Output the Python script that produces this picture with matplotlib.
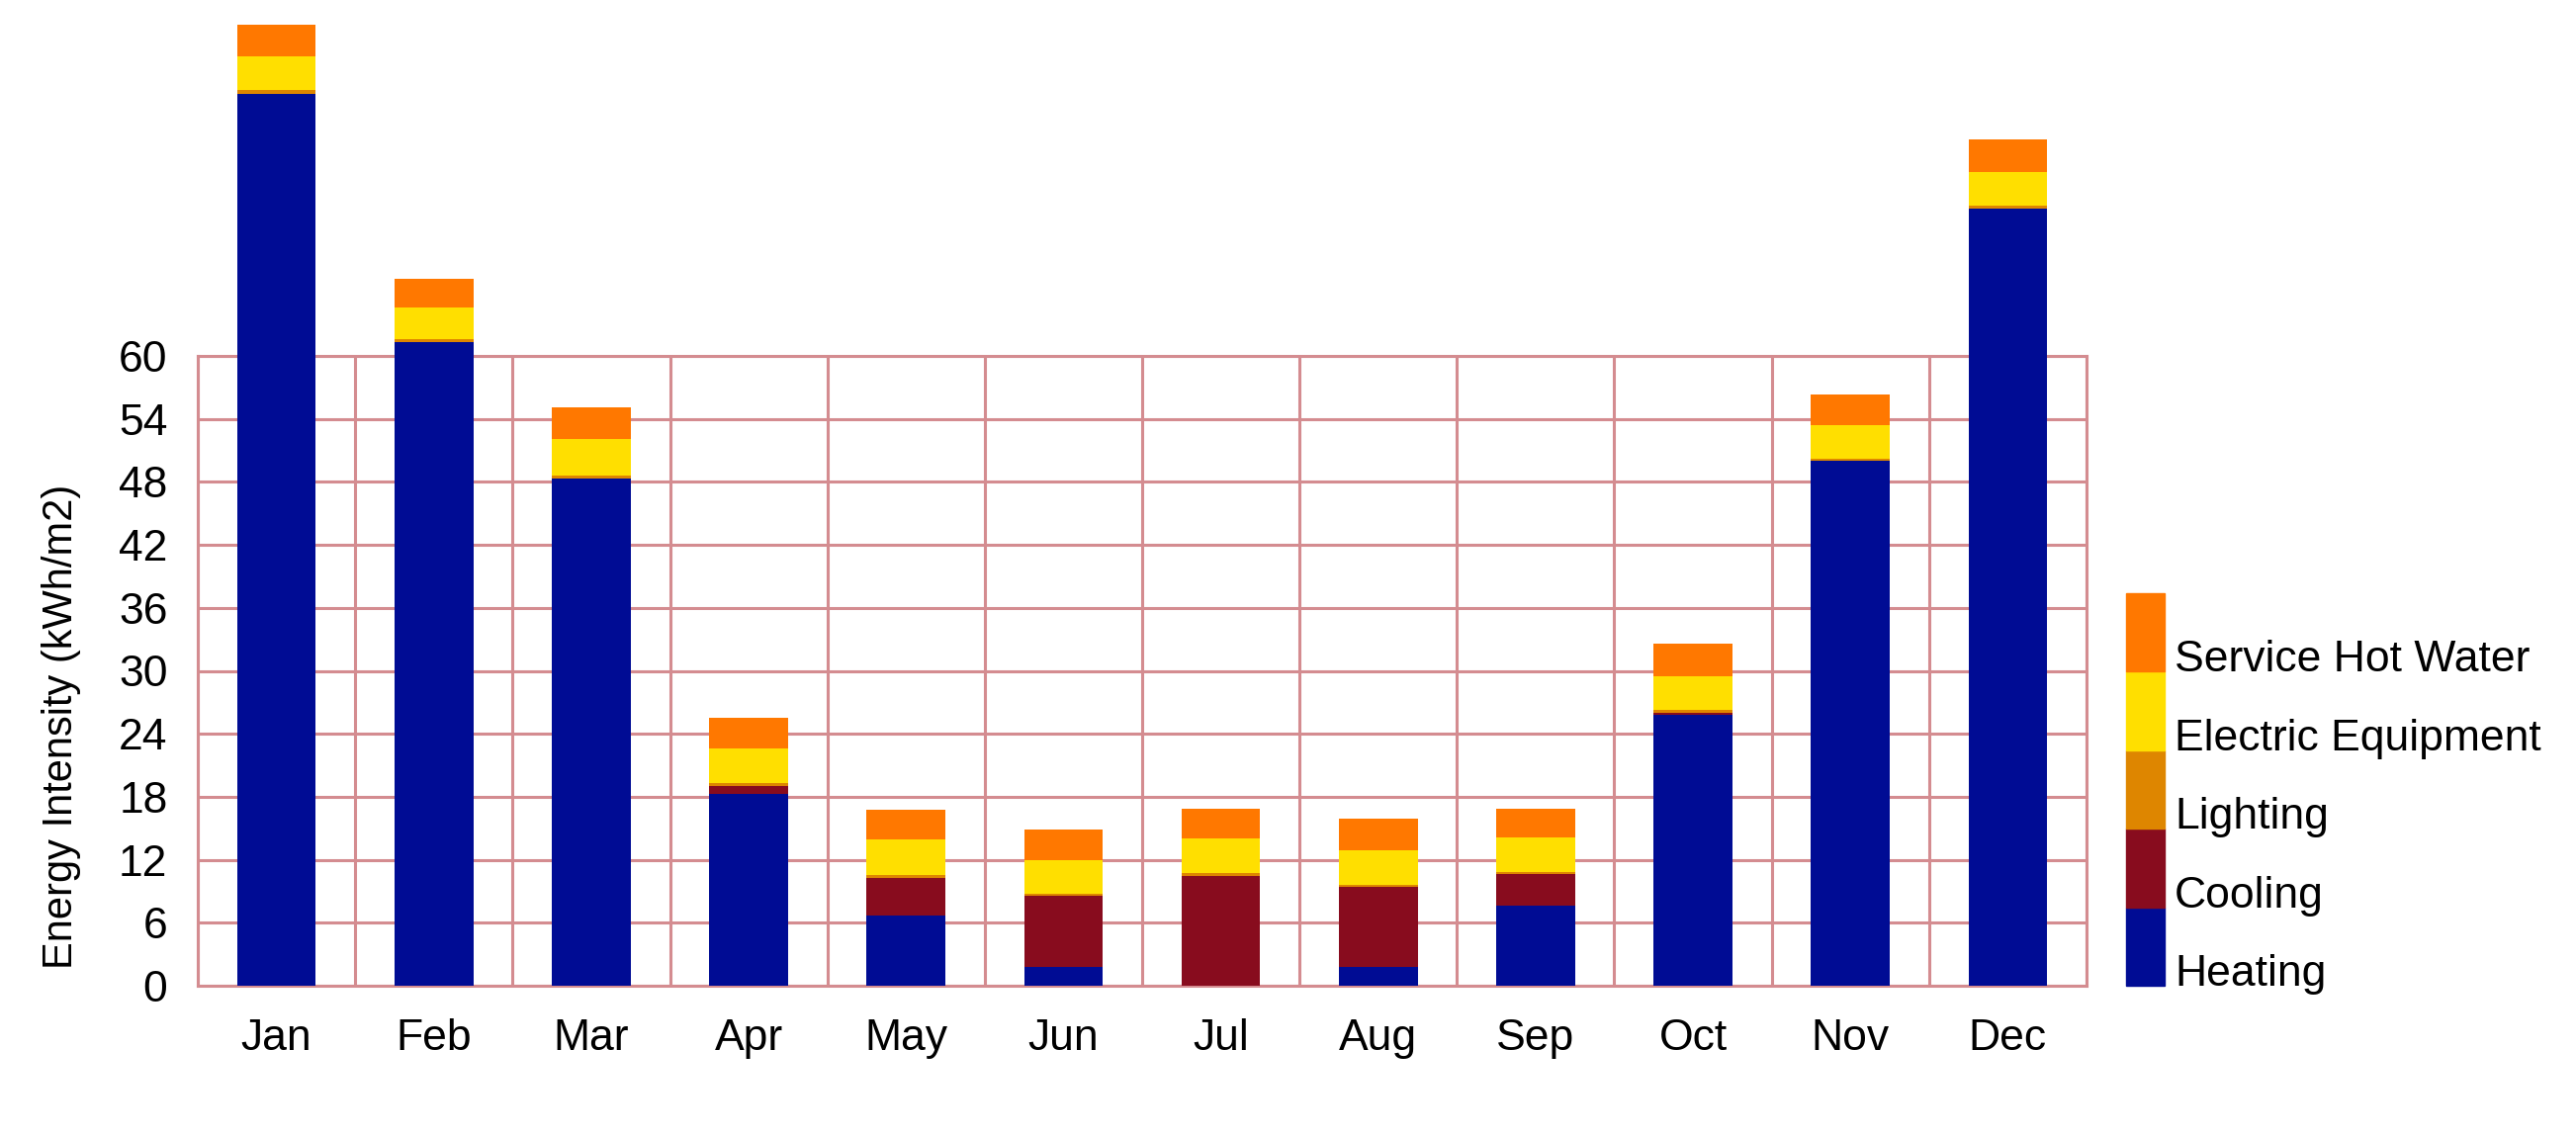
import numpy as np
import matplotlib
matplotlib.use("Agg")
import matplotlib.pyplot as plt
from matplotlib.patches import Rectangle

plt.rcParams['font.family'] = ['Liberation Sans', 'DejaVu Sans']

months = ['Jan', 'Feb', 'Mar', 'Apr', 'May', 'Jun', 'Jul', 'Aug', 'Sep', 'Oct', 'Nov', 'Dec']
heating = [85.0, 61.3, 48.3, 18.3, 6.7, 1.8, 0.0, 1.8, 7.6, 25.8, 50.0, 74.05]
cooling = [0.0, 0.0, 0.0, 0.7, 3.6, 6.75, 10.5, 7.6, 3.0, 0.15, 0.0, 0.0]
lighting = [0.35, 0.3, 0.3, 0.3, 0.25, 0.2, 0.25, 0.25, 0.25, 0.3, 0.25, 0.25]
equipment = [3.2, 3.0, 3.5, 3.3, 3.35, 3.25, 3.25, 3.3, 3.25, 3.2, 3.2, 3.25]
hot_water = [3.05, 2.75, 3.0, 2.9, 2.9, 2.85, 2.9, 2.95, 2.8, 3.1, 2.85, 3.05]

series = [
    ('Heating', heating, '#000c94'),
    ('Cooling', cooling, '#880c1e'),
    ('Lighting', lighting, '#de8600'),
    ('Electric Equipment', equipment, '#ffdf00'),
    ('Service Hot Water', hot_water, '#ff7800'),
]

grid_color = '#d48c90'
W, H = 2605, 1150
fig = plt.figure(figsize=(W / 100, H / 100), dpi=100)
ax = fig.add_axes([200 / W, 1 - 997 / H, (2110 - 200) / W, (997 - 360) / H])

x = np.arange(len(months))
bottom = np.zeros(len(months))
for name, vals, color in series:
    vals = np.array(vals)
    ax.bar(x, vals, width=0.5, bottom=bottom, color=color, clip_on=False, zorder=3)
    bottom += vals

ax.set_xlim(-0.5, len(months) - 0.5)
ax.set_ylim(0, 60)
ax.set_yticks(np.arange(0, 61, 6))
ax.set_xticks(x)
ax.set_xticklabels(months)
ax.set_xticks(np.arange(-0.5, len(months), 1), minor=True)
ax.tick_params(axis='both', which='both', length=0, labelsize=32)
ax.tick_params(axis='y', pad=22)
ax.tick_params(axis='x', pad=24)
ax.set_axisbelow(True)
ax.grid(axis='y', which='major', color=grid_color, linewidth=2.2)
ax.grid(axis='x', which='minor', color=grid_color, linewidth=2.2)
for sp in ax.spines.values():
    sp.set_color(grid_color)
    sp.set_linewidth(2.2)

fig.text(62 / W, 1 - 735 / H, 'Energy Intensity (kWh/m2)', rotation=90,
         fontsize=30, ha='center', va='center')

# legend: stacked color blocks with labels
patch_h = 79.5
for i, (name, vals, color) in enumerate(series):
    y0 = 997 - (i + 1) * patch_h
    fig.patches.append(Rectangle((2150 / W, 1 - (y0 + patch_h) / H), 39 / W, patch_h / H,
                                 transform=fig.transFigure, color=color))
    fig.text(2199 / W, 1 - (y0 + patch_h / 2 + 24) / H, name, fontsize=32,
             ha='left', va='center_baseline')

fig.savefig('out.png', dpi=100)
